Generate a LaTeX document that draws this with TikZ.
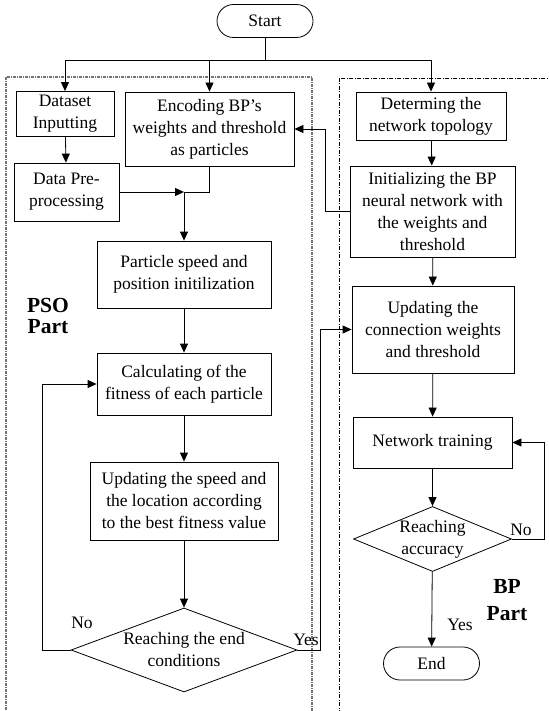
\documentclass[tikz,border=0pt]{standalone}
\usepackage{fontspec}
\setmainfont{Liberation Serif}
\usepackage{tikz}
\usetikzlibrary{calc,positioning,arrows.meta,shapes.geometric,shapes.misc}
\newcommand{\flowfont}{\fontsize{17.5}{22}\selectfont}
\tikzset{
    flow box/.style={
        rectangle,
        draw=black,
        line width=0.8pt,
        align=center,
        font=\flowfont,
        inner sep=0pt,
    },
    terminal/.style={
        rounded rectangle,
        draw=black,
        line width=0.8pt,
        font=\flowfont,
        minimum width=96pt,
        minimum height=33pt,
        inner sep=0pt,
    },
    decision/.style={
        diamond,
        draw=black,
        line width=0.8pt,
        inner sep=0pt,
        label={[font=\flowfont,align=center]center:#1},
    },
    part label/.style={
        font=\fontsize{21.5}{#1}\selectfont\bfseries,
        align=center,
    },
    answer/.style={
        font=\flowfont,
        inner sep=0pt,
    },
    connector/.style={
        -{Triangle[length=9pt,width=8pt]},
        line width=0.8pt,
    },
    plain/.style={
        line width=0.8pt,
    },
    pso frame/.style={
        draw=black!55,
        line width=1.1pt,
        dash pattern=on 3pt off 1pt on 1pt off 1pt,
    },
    bp frame/.style={
        draw=black,
        line width=0.5pt,
        dash pattern=on 4pt off 1.5pt on 1pt off 1.5pt,
    },
}
\begin{document}
\begin{tikzpicture}[x=1pt,y=-1pt]
    \useasboundingbox (0,0) rectangle (548,711);
    \clip (0,0) rectangle (548,711);
    \draw[pso frame] (6,77) rectangle (312,730);
    \draw[bp frame] (339,78) rectangle (570,730);
    \node[terminal](start) at (265,21) {Start};
    \coordinate (split) at (265,60);
    \node[flow box,minimum width=98,minimum height=45](dataset) at (65,114) {Dataset\\Inputting};
    \node[flow box,minimum width=105,minimum height=58](prep) at (66.5,192) {Data Pre-\\processing};
    \node[flow box,minimum width=169,minimum height=74](encode) at (209.5,129) {Encoding BP's\\weights and threshold\\as particles};
    \coordinate (merge) at (184,192);
    \node[flow box,minimum width=174,minimum height=67](particle) at (184,274.5) {Particle speed and\\position initilization};
    \node[flow box,minimum width=174,minimum height=62](fitness) at (184,384) {Calculating of the\\fitness of each particle};
    \node[flow box,minimum width=188,minimum height=78](update) at (184,501) {Updating the speed and\\the location according\\to the best fitness value};
    \node[decision={Reaching the end\\conditions},minimum width=226,minimum height=84](endcond) at (184,650) {};
    \node[part label=21](pso) at (48,316) {PSO\\Part};
    \node[answer](no1) at (82,623) {No};
    \node[answer](yes1) at (306,640) {Yes};
    \node[flow box,minimum width=150,minimum height=48](topo) at (431,116) {Determing the\\network topology};
    \node[flow box,minimum width=165,minimum height=91](init) at (432.5,211.5) {Initializing the BP\\neural network with\\the weights and\\threshold};
    \node[flow box,minimum width=162,minimum height=87](conn) at (433,329.5) {Updating the\\connection weights\\and threshold};
    \node[flow box,minimum width=159,minimum height=51](train) at (432.5,442.5) {Network training};
    \node[decision={Reaching\\accuracy},minimum width=158,minimum height=65](accuracy) at (432.5,539) {};
    \node[answer](no2) at (521,530) {No};
    \node[answer](yes2) at (460,625) {Yes};
    \node[terminal](end) at (431.5,663.5) {End};
    \node[part label=27](bp) at (507,600) {BP\\Part};
    \draw[plain] (start) -- (split);
    \draw[connector] (split) -| (dataset);
    \draw[connector] (split) -| (encode);
    \draw[connector] (split) -| (topo);
    \draw[connector] (dataset) -- (prep);
    \draw[plain] (encode.south) |- (merge);
    \draw[connector] (prep.east) -- (merge);
    \draw[connector] (merge) -- (particle);
    \draw[connector] (particle) -- (fitness);
    \draw[connector] (fitness) -- (update);
    \draw[connector] (update) -- (endcond);
    \draw[connector] (endcond.west) -- ++(-28,0) |- (fitness.west);
    \draw[connector] (endcond.east) -- ++(23,0) |- (conn.west);
    \draw[connector] (topo) -- (init);
    \draw[connector] (init.west) -- ++(-24,0) |- (encode.east);
    \draw[connector] (init) -- (conn);
    \draw[connector] (conn) -- (train);
    \draw[connector] (train) -- (accuracy);
    \draw[connector] (accuracy.east) -- ++(32,0) |- (train.east);
    \draw[connector] (accuracy) -- (end);
\end{tikzpicture}
\end{document}
